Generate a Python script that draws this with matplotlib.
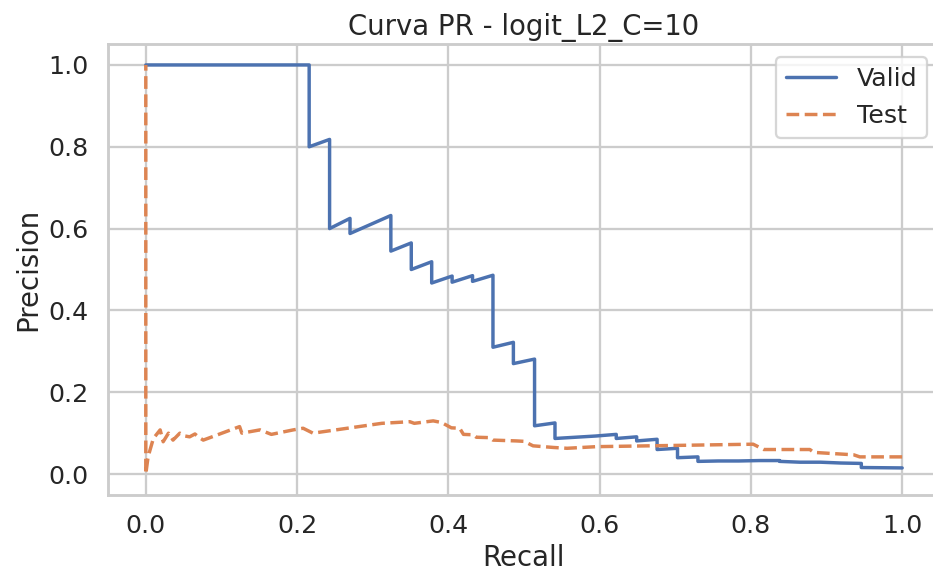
import matplotlib
matplotlib.use("Agg")
import matplotlib.pyplot as plt
import seaborn as sns

# Valid PR curve (recall increasing)
valid_recall = [0.0, 0.216, 0.216, 0.243, 0.243, 0.270, 0.270, 0.324, 0.324, 0.351, 0.351,
                0.378, 0.378, 0.405, 0.405, 0.432, 0.432, 0.459, 0.459, 0.486, 0.486,
                0.514, 0.514, 0.541, 0.541, 0.568, 0.595, 0.622, 0.622, 0.649, 0.649,
                0.676, 0.676, 0.703, 0.703, 0.730, 0.730, 0.757, 0.784, 0.811, 0.838,
                0.838, 0.865, 0.892, 0.919, 0.946, 0.946, 1.0]
valid_precision = [1.0, 1.0, 0.800, 0.818, 0.600, 0.625, 0.588, 0.632, 0.545, 0.565, 0.500,
                   0.519, 0.467, 0.484, 0.469, 0.485, 0.471, 0.486, 0.310, 0.322, 0.270,
                   0.281, 0.118, 0.125, 0.087, 0.090, 0.093, 0.097, 0.087, 0.091, 0.081,
                   0.085, 0.060, 0.063, 0.040, 0.042, 0.031, 0.032, 0.032, 0.033, 0.033,
                   0.031, 0.029, 0.029, 0.027, 0.026, 0.016, 0.015]

# Test PR curve (recall increasing)
test_recall = [0.0, 0.0, 0.003, 0.010, 0.019, 0.023, 0.030, 0.036, 0.045, 0.052, 0.058,
               0.065, 0.070, 0.076, 0.124, 0.127, 0.151, 0.166, 0.195, 0.208, 0.221,
               0.312, 0.349, 0.355, 0.380, 0.391, 0.404, 0.415, 0.420, 0.433, 0.437,
               0.455, 0.459, 0.490, 0.500, 0.512, 0.539, 0.557, 0.596, 0.700, 0.803,
               0.817, 0.878, 0.883, 0.936, 0.944, 1.0]
test_precision = [1.0, 0.0, 0.042, 0.087, 0.108, 0.079, 0.100, 0.083, 0.100, 0.093, 0.091,
                  0.098, 0.090, 0.083, 0.116, 0.100, 0.108, 0.097, 0.108, 0.112, 0.100,
                  0.124, 0.128, 0.124, 0.130, 0.126, 0.113, 0.112, 0.097, 0.096, 0.090,
                  0.089, 0.083, 0.081, 0.080, 0.069, 0.065, 0.063, 0.067, 0.070, 0.073,
                  0.060, 0.060, 0.053, 0.047, 0.042, 0.042]

title = "Curva PR - logit_L2_C=10"

sns.set_theme(style="whitegrid", context="talk")

DPI = 110
fig = plt.figure(figsize=(934 / DPI, 569 / DPI), dpi=DPI)
ax = fig.add_axes([0.1156, 0.1309, 1.0064 - 0.1156, 0.9218 - 0.1309])

ax.plot(valid_recall[::-1], valid_precision[::-1], label="Valid")
ax.plot(test_recall[::-1], test_precision[::-1], linestyle="--", label="Test")

ax.set_xlabel("Recall")
ax.set_ylabel("Precision")
ax.set_title(title)
ax.legend(loc="upper right")

fig.savefig("out.png", dpi=DPI)
